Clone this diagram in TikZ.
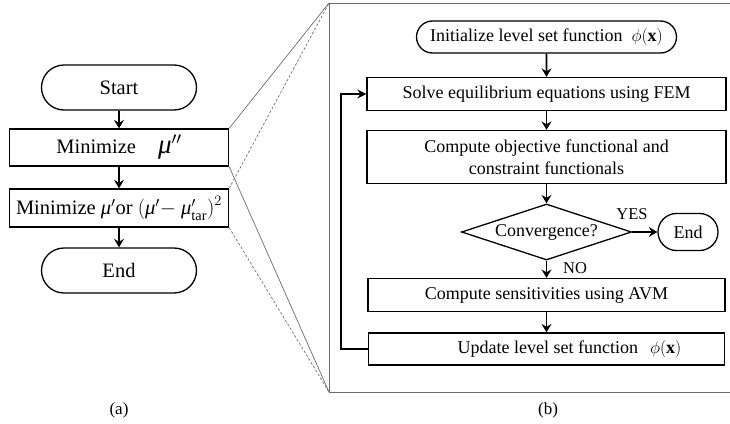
\documentclass[tikz,border=0pt]{standalone}
\usepackage{fontspec}
\setmainfont{Liberation Serif}
\usetikzlibrary{shapes.geometric,shapes.misc,arrows.meta}

\newcommand{\imu}{{\itshape μ}}

\begin{document}
\begin{tikzpicture}[x=1pt,y=-1pt,
  box/.style={draw, line width=1.3pt, rectangle, inner sep=0pt, align=center},
  term/.style={draw, line width=1.3pt, rounded rectangle, inner sep=0pt},
  dec/.style={draw, line width=1.3pt, diamond, aspect=3, inner sep=0pt},
  flow/.style={line width=1.9pt, -{Stealth[length=8.5pt,width=10pt,inset=3pt]}},
  loop/.style={line width=2.3pt, -{Stealth[length=9pt,width=9pt,inset=3pt]}},
  panel/.style={draw=black!58, line width=0.9pt},
  zoomline/.style={draw=black!58, line width=0.7pt},
  lfont/.style={font=\fontsize{20.5}{24}\selectfont},
  rfont/.style={font=\fontsize{18}{22}\selectfont},
]
\useasboundingbox (0,0) rectangle (730,423);

% ---- (a) outer loop ----
\node[term, lfont, minimum width=155pt, minimum height=45pt] (start) at (119,87.5) {Start};
\node[box, lfont, minimum width=219pt, minimum height=37pt] (min1) at (119,147.5)
  {Minimize\hspace{22pt}{\fontsize{27}{27}\selectfont\imu$''$}};
\node[box, lfont, minimum width=219pt, minimum height=38pt] (min2) at (119,208)
  {Minimize \imu$'$or $\bigl($\imu$' -$ \imu$'_{\mathrm{tar}}\bigr)^{2}$};
\node[term, lfont, minimum width=155pt, minimum height=45pt] (endA) at (119,270.5) {End};

\draw[flow] (start) -- (min1);
\draw[flow] (min1) -- (min2);
\draw[flow] (min2) -- (endA);

\node[font=\fontsize{17}{20}\selectfont] (capA) at (119,410) {(a)};

% ---- (b) level set optimisation ----
\coordinate (pTL) at (329,3);
\coordinate (pBL) at (329,392);
\coordinate (pTR) at (731,3);
\coordinate (pBR) at (731,392);
\draw[panel] (pTR) -- (pTL) -- (pBL) -- (pBR);

\draw[zoomline] (min1.north east) -- (pTL);
\draw[zoomline] (min1.south east) -- (pBL);
\draw[zoomline, dashed, dash pattern=on 2.5pt off 2pt] (min2.north east) -- (pTL);
\draw[zoomline, dashed, dash pattern=on 2.5pt off 2pt] (min2.south east) -- (pBL);

\node[term, rfont, minimum width=260pt, minimum height=32pt] (init) at (546.5,37)
  {Initialize level set function\hspace{9pt}$\phi(\mathbf{x})$};
\node[box, rfont, minimum width=359pt, minimum height=33pt] (solve) at (546.5,94)
  {Solve equilibrium equations using FEM};
\node[box, rfont, minimum width=359pt, minimum height=53pt] (obj) at (546.5,157)
  {Compute objective functional and\\constraint functionals};
\node[dec, rfont, minimum width=170pt, minimum height=56pt] (conv) at (546.5,232) {};
\node[rfont] (convtxt) at (546.5,232) {Convergence?};
\node[term, rfont, minimum width=60pt, minimum height=37pt] (endB) at (688,232) {End};
\node[box, rfont, minimum width=357pt, minimum height=33pt] (sens) at (546.5,295)
  {Compute sensitivities using AVM};
\node[box, rfont, minimum width=356pt, minimum height=32pt] (upd) at (546.5,349)
  {\hspace*{46pt}Update level set function\hspace{12pt}$\phi(\mathbf{x})$};

\draw[flow] (init) -- (solve);
\draw[flow] (solve) -- (obj);
\draw[flow] (obj) -- (conv.north);
\draw[flow] (conv.east) -- (endB.west);
\draw[flow] (conv.south) -- (sens);
\draw[flow] (sens) -- (upd);
\coordinate (lx) at (341,0);
\draw[loop] (upd.west) -- (upd.west -| lx) -- (solve.west -| lx) -- (solve.west);

\node[font=\fontsize{16.5}{20}\selectfont] (yes) at (632,214) {YES};
\node[font=\fontsize{16.5}{20}\selectfont] (no) at (575,268.5) {NO};

\node[font=\fontsize{17}{20}\selectfont] (capB) at (548,410) {(b)};
\end{tikzpicture}
\end{document}
